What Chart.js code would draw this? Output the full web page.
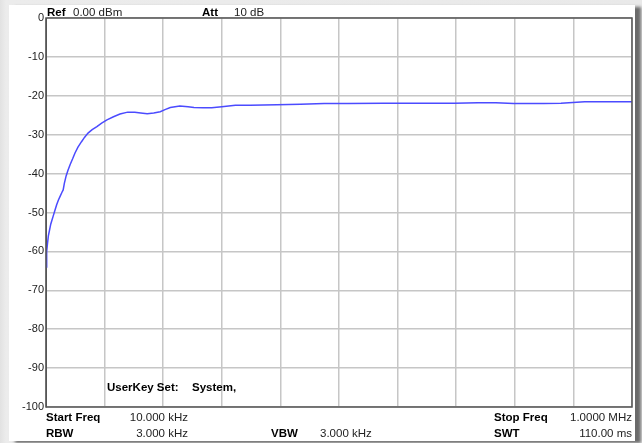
<!DOCTYPE html>
<html>
<head>
<meta charset="utf-8">
<script src="https://cdn.jsdelivr.net/npm/chart.js@4"></script>
<style>
  html, body { margin: 0; padding: 0; }
  body {
    width: 642px;
    height: 443px;
    overflow: hidden;
    position: relative;
    background: linear-gradient(90deg, #e2e2e2, #ececec 6px, #e9e9e9);
  }
  #panel {
    position: absolute;
    left: 9px;
    top: 5px;
    width: 626px;
    height: 436px;
    background: #fff;
    box-shadow: 6px 2px 3px #6a6a6a;
  }
  #chart { position: absolute; left: 0; top: 0; }
</style>
</head>
<body>
<div id="panel"></div>
<canvas id="chart" width="642" height="443"></canvas>
<script>
// frequency axis in kHz, level in dBm
const freqKHz = [
  10, 10.8, 11.5, 12.5, 14, 16, 18, 20, 22, 25, 28, 31, 34, 37, 39, 41, 44, 47,
  51, 55, 59, 64, 70, 75, 81, 88, 96, 104, 113, 124, 135, 148, 160, 170, 181,
  192, 203, 212, 220, 236, 250, 260, 275, 290, 307, 330, 355, 400, 440, 480,
  520, 580, 640, 700, 740, 770, 800, 850, 880, 900, 920, 1000,
];
const levelDbm = [
  -64, -62.5, -60, -58, -56, -54.5, -53, -52, -51, -49.5, -48, -46.8, -45.8,
  -44.8, -44.2, -42.5, -40.6, -39.2, -37.6, -36.2, -34.7, -33.2, -31.8, -30.7,
  -29.6, -28.7, -27.9, -27, -26.2, -25.4, -24.7, -24.2, -24.2, -24.4, -24.6,
  -24.4, -24.1, -23.5, -23.0, -22.6, -22.8, -23.0, -23.1, -23.1, -22.8, -22.4,
  -22.4, -22.3, -22.2, -22.0, -22.0, -21.9, -21.9, -21.9, -21.8, -21.8, -22.0,
  -22.0, -21.9, -21.7, -21.5, -21.5,
];
const yTicks = [0, -10, -20, -30, -40, -50, -60, -70, -80, -90, -100];

// header / footer texts of the analyzer screen
const labels = [
  { t: "Ref", x: 47, y: 16, b: true },
  { t: "0.00 dBm", x: 73, y: 16 },
  { t: "Att", x: 202, y: 16, b: true },
  { t: "10 dB", x: 234, y: 16 },
  { t: "UserKey Set:", x: 107, y: 391, b: true },
  { t: "System,", x: 192, y: 391, b: true },
  { t: "Start Freq", x: 46, y: 421, b: true },
  { t: "10.000 kHz", x: 188, y: 421, r: true },
  { t: "RBW", x: 46, y: 437, b: true },
  { t: "3.000 kHz", x: 188, y: 437, r: true },
  { t: "VBW", x: 271, y: 437, b: true },
  { t: "3.000 kHz", x: 320, y: 437 },
  { t: "Stop Freq", x: 494, y: 421, b: true },
  { t: "1.0000 MHz", x: 632, y: 421, r: true },
  { t: "SWT", x: 494, y: 437, b: true },
  { t: "110.00 ms", x: 632, y: 437, r: true },
];

const textPlugin = {
  id: "screenText",
  afterDraw(chart) {
    const ctx = chart.ctx;
    const a = chart.chartArea;
    ctx.save();
    // frame
    ctx.strokeStyle = "#555";
    ctx.lineWidth = 1.5;
    ctx.strokeRect(a.left, a.top, a.right - a.left, a.bottom - a.top);
    ctx.textBaseline = "alphabetic";
    labels.forEach((l) => {
      ctx.font = (l.b ? "bold " : "") + "11.5px 'Liberation Sans', Arial, sans-serif";
      ctx.fillStyle = l.b ? "#000" : "#222";
      ctx.textAlign = l.r ? "right" : "left";
      ctx.fillText(l.t, l.x, l.y);
    });
    ctx.restore();
  },
};

new Chart(document.getElementById("chart"), {
  type: "line",
  data: {
    datasets: [
      {
        data: freqKHz.map((f, i) => ({ x: f, y: levelDbm[i] })),
        borderColor: "#4b4bff",
        borderWidth: 1.5,
        pointRadius: 0,
        tension: 0,
        fill: false,
      },
    ],
  },
  options: {
    responsive: false,
    animation: false,
    layout: { padding: { left: 0, right: 10, top: 18, bottom: 36 } },
    plugins: { legend: { display: false }, tooltip: { enabled: false } },
    scales: {
      x: {
        type: "linear",
        min: 10,
        max: 1000,
        ticks: { display: false, stepSize: 99 },
        grid: { color: "#c6c6c6", lineWidth: 1.5, drawTicks: false },
        border: { display: false },
      },
      y: {
        min: -100,
        max: 0,
        afterFit(scale) {
          scale.width = 46;
        },
        afterBuildTicks(scale) {
          scale.ticks = yTicks.map((v) => ({ value: v }));
        },
        ticks: {
          padding: 2,
          color: "#222",
          font: { family: "'Liberation Sans', Arial, sans-serif", size: 11 },
        },
        grid: { color: "#c6c6c6", lineWidth: 1.5, drawTicks: false },
        border: { color: "#555", width: 1 },
      },
    },
  },
  plugins: [textPlugin],
});
</script>
</body>
</html>
